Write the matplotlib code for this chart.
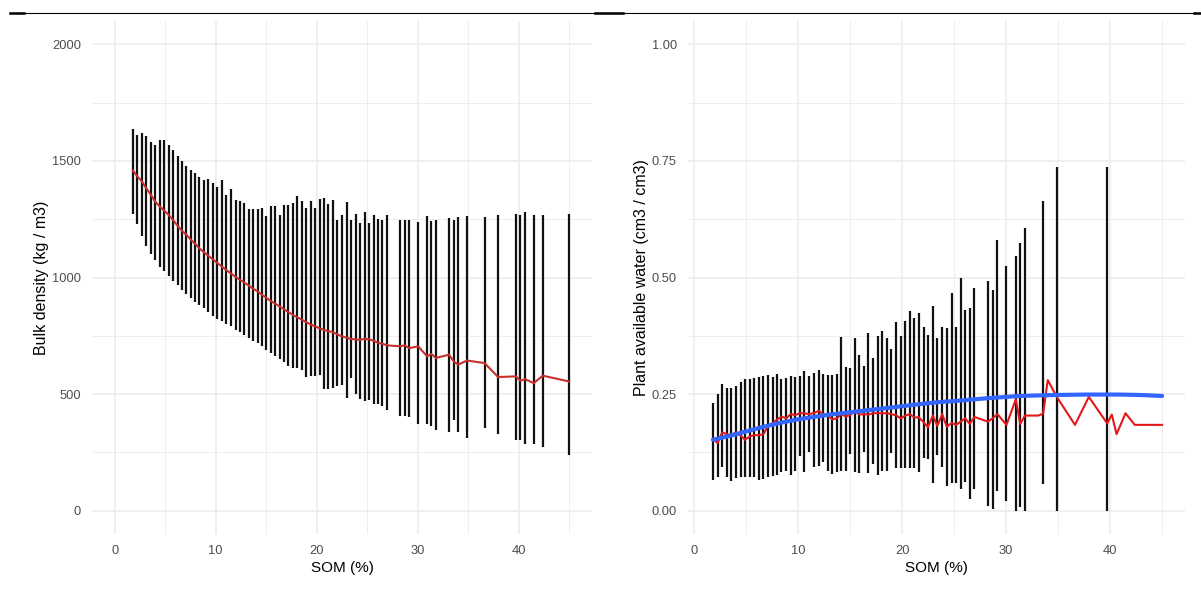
import numpy as np
import matplotlib
matplotlib.use("Agg")
import matplotlib.pyplot as plt
from matplotlib.lines import Line2D

plt.rcParams['font.family'] = ['Liberation Sans', 'DejaVu Sans']

# ---------------- data ----------------
som = [1.80, 2.25, 2.69, 3.12, 3.57, 4.01, 4.45, 4.89, 5.33, 5.77,
       6.22, 6.66, 7.10, 7.54, 7.95, 8.39, 8.84, 9.27, 9.71, 10.16,
       10.58, 11.01, 11.48, 11.96, 12.40, 12.84, 13.28, 13.71, 14.15, 14.57,
       15.00, 15.44, 15.87, 16.33, 16.75, 17.19, 17.63, 18.09, 18.53, 18.97,
       19.43, 19.86, 20.30, 20.72, 21.16, 21.61, 22.05, 22.47, 22.95, 23.38,
       23.85, 24.29, 24.75, 25.19, 25.63, 26.06, 26.50, 26.95, 28.23, 28.69,
       29.16, 30.03, 30.93, 31.35, 31.80, 33.10, 33.56, 34.00, 34.87, 36.62,
       37.95, 39.72, 40.16, 40.62, 41.48, 42.37, 45.00]

bd_mean = [1459, 1433, 1412, 1383, 1355, 1325, 1305, 1287, 1269, 1247,
           1222, 1200, 1183, 1162, 1145, 1125, 1108, 1093, 1078, 1062,
           1048, 1033, 1018, 1003, 990, 978, 965, 952, 940, 926,
           913, 900, 888, 876, 864, 852, 840, 829, 819, 808,
           798, 790, 782, 775, 770, 765, 756, 748, 742, 737,
           734, 733, 737, 735, 729, 720, 716, 709, 705, 709,
           697, 705, 662, 672, 655, 669, 640, 626, 644, 633,
           573, 576, 557, 564, 547, 579, 554]

bd_upper = [1636, 1612, 1619, 1607, 1583, 1569, 1590, 1590, 1569, 1547,
            1523, 1500, 1479, 1462, 1447, 1433, 1416, 1423, 1405, 1386,
            1416, 1355, 1379, 1333, 1329, 1319, 1293, 1293, 1293, 1297,
            1262, 1305, 1305, 1269, 1312, 1312, 1319, 1350, 1326, 1297,
            1330, 1297, 1337, 1340, 1316, 1333, 1247, 1269, 1322, 1247,
            1273, 1233, 1280, 1233, 1269, 1252, 1247, 1266, 1247, 1247,
            1247, 1237, 1262, 1243, 1247, 1257, 1247, 1259, 1264, 1259,
            1269, 1272, 1269, 1280, 1269, 1269, 1273]

bd_lower = [1273, 1229, 1176, 1136, 1100, 1073, 1047, 1026, 1007, 987,
            966, 947, 930, 912, 897, 883, 869, 852, 837, 823,
            812, 800, 790, 776, 766, 755, 740, 729, 719, 705,
            690, 676, 665, 650, 636, 619, 612, 612, 605, 573,
            576, 579, 583, 522, 523, 526, 533, 540, 483, 569,
            502, 479, 469, 476, 459, 459, 447, 430, 407, 407,
            402, 373, 373, 362, 347, 336, 390, 336, 310, 354,
            329, 302, 302, 286, 286, 273, 240]

nan = float('nan')
paw_mean = [0.154, 0.145, 0.168, 0.164, 0.162, 0.168, 0.161, 0.152, 0.159, 0.162,
            0.162, 0.164, 0.182, 0.188, 0.195, 0.202, 0.198, 0.207, 0.205, 0.209,
            0.209, 0.207, 0.209, 0.214, 0.207, 0.204, 0.196, 0.198, 0.207, 0.202,
            0.205, 0.214, 0.206, 0.207, 0.206, 0.209, 0.209, 0.209, 0.209, 0.207,
            0.204, 0.198, 0.204, 0.207, 0.200, 0.200, 0.190, 0.179, 0.204, 0.182,
            0.207, 0.180, 0.188, 0.184, 0.191, 0.198, 0.186, 0.201, 0.191, 0.198,
            0.207, 0.184, 0.239, 0.186, 0.204, 0.204, 0.208, 0.280, 0.244, 0.184,
            0.244, 0.187, 0.206, 0.164, 0.209, 0.184, 0.184]

paw_upper = [0.231, 0.251, 0.271, 0.263, 0.264, 0.268, 0.276, 0.282, 0.282, 0.285,
             0.286, 0.289, 0.291, 0.287, 0.293, 0.282, 0.285, 0.289, 0.287, 0.289,
             0.299, 0.289, 0.295, 0.302, 0.294, 0.291, 0.291, 0.293, 0.373, 0.309,
             0.305, 0.371, 0.334, 0.311, 0.380, 0.327, 0.375, 0.386, 0.371, 0.346,
             0.404, 0.375, 0.407, 0.429, 0.414, 0.424, 0.393, 0.377, 0.439, 0.371,
             0.393, 0.391, 0.466, 0.394, 0.498, 0.430, 0.434, 0.477, 0.493, 0.474,
             0.581, 0.525, 0.546, 0.573, 0.607, nan, 0.663, nan, 0.738, nan,
             nan, 0.738, nan, nan, nan, nan, nan]

paw_lower = [0.066, 0.073, 0.093, 0.073, 0.064, 0.070, 0.072, 0.072, 0.072, 0.072,
             0.066, 0.069, 0.072, 0.075, 0.077, 0.082, 0.086, 0.077, 0.086, 0.118,
             0.082, 0.125, 0.093, 0.095, 0.104, 0.086, 0.079, 0.084, 0.086, 0.086,
             0.121, 0.084, 0.081, 0.125, 0.080, 0.100, 0.077, 0.086, 0.086, 0.123,
             0.091, 0.091, 0.091, 0.091, 0.091, 0.082, 0.112, 0.111, 0.059, 0.119,
             0.094, 0.052, 0.059, 0.059, 0.046, 0.061, 0.025, 0.046, 0.011, 0.004,
             0.043, 0.021, 0.000, 0.007, 0.000, nan, 0.057, nan, 0.000, nan,
             nan, 0.000, nan, nan, nan, nan, nan]

smooth_som = [1.8, 3.5, 5.0, 6.5, 8.2, 10.0, 11.5, 13.0, 14.6, 16.5, 18.5,
              21.1, 23.6, 25.0, 28.1, 31.3, 34.5, 37.7, 40.9, 43.0, 45.0]
smooth_paw = [0.152, 0.161, 0.170, 0.179, 0.188, 0.196, 0.201, 0.206, 0.210, 0.215, 0.220,
              0.227, 0.233, 0.235, 0.241, 0.246, 0.248, 0.249, 0.249, 0.248, 0.246]

x_ticks = [0, 10, 20, 30, 40]
bd_ticks = [0, 500, 1000, 1500, 2000]
paw_ticks = [0.00, 0.25, 0.50, 0.75, 1.00]
paw_ticklabels = ["0.00", "0.25", "0.50", "0.75", "1.00"]

# ---------------- figure ----------------
W, H = 1201, 594
fig = plt.figure(figsize=(W / 100, H / 100), dpi=100)
fig.patch.set_facecolor('white')

bottom_px, top_px = 534, 21
axL = fig.add_axes([92 / W, 1 - bottom_px / H, 500 / W, (bottom_px - top_px) / H])
axR = fig.add_axes([688 / W, 1 - bottom_px / H, 497 / W, (bottom_px - top_px) / H])

TICK_COLOR = '#4d4d4d'
GRID = '#ebebeb'


def style(ax, xlim, ylim, yticks, yminor, ylabel, yticklabels=None):
    ax.set_xlim(*xlim)
    ax.set_ylim(*ylim)
    ax.set_xticks(x_ticks)
    ax.set_xticks([5, 15, 25, 35, 45], minor=True)
    ax.set_yticks(yticks)
    if yticklabels is not None:
        ax.set_yticklabels(yticklabels)
    ax.set_yticks(yminor, minor=True)
    for s in ax.spines.values():
        s.set_visible(False)
    ax.tick_params(which='both', length=0, labelsize=9.3, labelcolor=TICK_COLOR)
    ax.tick_params(axis='y', pad=8)
    ax.tick_params(axis='x', pad=8)
    ax.grid(which='major', color=GRID, lw=1.1, zorder=0)
    ax.grid(which='minor', color=GRID, lw=0.6, zorder=0)
    ax.set_axisbelow(True)
    ax.set_xlabel('SOM (%)', fontsize=11, labelpad=3)
    ax.set_ylabel(ylabel, fontsize=11.5, labelpad=2)


# left panel
style(axL, (-2.25, 47.25), (-100, 2100), bd_ticks, [250, 750, 1250, 1750],
      'Bulk density (kg / m3)')
axL.vlines(som, bd_lower, bd_upper, color='#111111', lw=1.6, zorder=2)
axL.plot(som, bd_mean, color='#c9302c', lw=1.5, zorder=3)

# right panel
style(axR, (-0.6, 47.2), (-0.05, 1.05), paw_ticks, [0.125, 0.375, 0.625, 0.875],
      'Plant available water (cm3 / cm3)', paw_ticklabels)
sx = np.array(som)
lo = np.array(paw_lower)
hi = np.array(paw_upper)
m = ~np.isnan(lo)
axR.vlines(sx[m], lo[m], hi[m], color='#111111', lw=1.6, zorder=2)
axR.plot(som, paw_mean, color='#e3191c', lw=1.5, zorder=3)
axR.plot(smooth_som, smooth_paw, color='#3366ff', lw=3, zorder=4,
         solid_capstyle='round')

# top border line (scan artifact)
fig.add_artist(Line2D([10 / W, 1194 / W], [1 - 12.7 / H] * 2, color='black', lw=0.8,
                      transform=fig.transFigure))
for x0, x1 in [(10, 24), (595, 623), (1194, 1201)]:
    fig.add_artist(Line2D([x0 / W, x1 / W], [1 - 13.2 / H] * 2, color='black', lw=1.8,
                          transform=fig.transFigure))

fig.savefig('out.png', dpi=100, facecolor='white')
